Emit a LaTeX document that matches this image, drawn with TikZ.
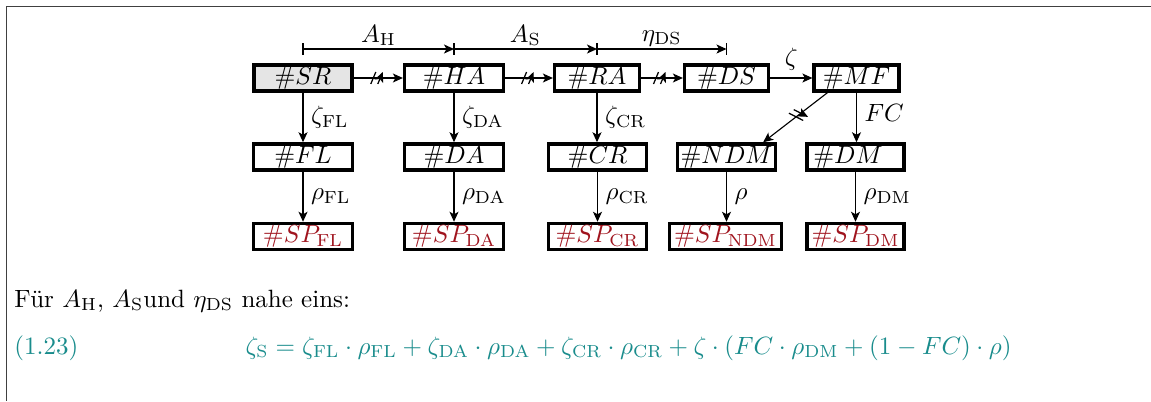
\documentclass[tikz,border=0pt]{standalone}
\usetikzlibrary{arrows.meta,calc}
\definecolor{spred}{RGB}{160,20,30}
\definecolor{eqteal}{RGB}{25,140,140}
\definecolor{srfill}{RGB}{229,229,229}
\begin{document}
\begin{tikzpicture}[x=0.4pt,y=-0.4pt,
  box/.style={draw, line width=1.3pt, inner sep=0.8pt, minimum height=10.3pt, minimum width=#1},
  box/.default=39.2pt,
  arr/.style={-{Stealth[length=4pt,width=3.6pt,inset=1pt]}, line width=0.45pt},
  dimline/.style={-{Stealth[length=4pt,width=3.6pt,inset=1pt]}, line width=0.45pt},
  tick/.style={line width=0.45pt},
  lbl/.style={inner sep=3pt},
  frame/.style={line width=0.6pt, black!75},
  slashes/.pic={\draw[line width=0.5pt] (-6,6) -- (-1,-6) (1,6) -- (6,-6);},
  crossmarks/.pic={\draw[line width=0.5pt] (-9.5,-1.8) -- (4.7,5.4) (-4.7,-5.4) -- (9.5,1.8);}
]
\useasboundingbox (0,0) rectangle (1151,401);

% outer frame (top and left edges only)
\draw[frame] (1151,6.5) -- (6.5,6.5) -- (6.5,401);

% first row
\node[box=39.2pt, fill=srfill] (SR) at (303,78) {$\#SR$};
\node[box=39.6pt] (HA) at (454,78) {$\#HA$};
\node[box=34pt]   (RA) at (597,78) {$\#RA$};
\node[box=33.6pt] (DS) at (726.5,78) {$\#DS$};
\node[box=34pt]   (MF) at (856.5,78) {$\#MF$};

% second row
\node[box=39.6pt] (FL)  at (303,157) {$\#FL$};
\node[box=39.6pt] (DA)  at (454,157) {$\#DA$};
\node[box=39.2pt] (CR)  at (597.5,157) {$\#CR$};
\node[box=39.2pt] (NDM) at (726.5,157) {$\#NDM$};
\node[box=38.8pt] (DM)  at (855.5,157) {$\#DM$\kern6pt};

% third row
\node[box=39.6pt, text=spred] (SPFL)  at (303,236.5) {$\#SP_{\mathrm{FL}}$};
\node[box=39.6pt, text=spred] (SPDA)  at (454,236.5) {$\#SP_{\mathrm{DA}}$};
\node[box=39.2pt, text=spred] (SPCR)  at (597.5,236.5) {$\#SP_{\mathrm{CR}}$};
\node[box=44.8pt, text=spred] (SPNDM) at (725.5,236.5) {$\#SP_{\mathrm{NDM}}$};
\node[box=38.8pt, text=spred] (SPDM)  at (855.5,236.5) {$\#SP_{\mathrm{DM}}$};

% horizontal chain
\draw[arr] (SR.east) -- pic[pos=0.47]{slashes} (HA.west);
\draw[arr] (HA.east) -- pic[pos=0.47]{slashes} (RA.west);
\draw[arr] (RA.east) -- pic[pos=0.44]{slashes} (DS.west);
\draw[arr] (DS.east) -- node[above, lbl]{$\zeta$} (MF.west);

% vertical branches
\draw[arr] (SR.south) -- node[right, lbl]{$\zeta_{\mathrm{FL}}$} (FL.north);
\draw[arr] (HA.south) -- node[right, lbl]{$\zeta_{\mathrm{DA}}$} (DA.north);
\draw[arr] (RA.south) -- node[right, lbl]{$\zeta_{\mathrm{CR}}$} (RA.south |- CR.north);
\draw[arr] (MF.south) -- node[right, lbl, yshift=2pt]{$FC$} (MF.south |- DM.north);
\coordinate (mfout) at ($(MF.south west)!0.17!(MF.south east)$);
\coordinate (ndmin) at ($(NDM.north east)+(-14,0)$);
\draw[arr] (mfout) -- pic[pos=0.45]{crossmarks} (ndmin);

\draw[arr] (FL.south) -- node[right, lbl]{$\rho_{\mathrm{FL}}$} (SPFL.north);
\draw[arr] (DA.south) -- node[right, lbl]{$\rho_{\mathrm{DA}}$} (SPDA.north);
\draw[arr] (CR.south) -- node[right, lbl]{$\rho_{\mathrm{CR}}$} (SPCR.north);
\draw[arr] (NDM.south) -- node[right, lbl]{$\rho$} (NDM.south |- SPNDM.north);
\draw[arr] (DM.south) -- node[right, lbl]{$\rho_{\mathrm{DM}}$} (SPDM.north);

% dimension line above the chain
\coordinate (d1) at ($(SR.center)+(0,-29)$);
\coordinate (d2) at ($(HA.center)+(0,-29)$);
\coordinate (d3) at ($(RA.center)+(0,-29)$);
\coordinate (d4) at ($(DS.center)+(0,-29)$);
\draw[dimline] (d1) -- node[above, inner sep=1pt]{$A_{\mathrm{H}}$} (d2);
\draw[dimline] (d2) -- node[above, inner sep=1pt]{$A_{\mathrm{S}}$} (d3);
\draw[dimline] (d3) -- node[above, inner sep=1pt]{$\eta_{\mathrm{DS}}$} (d4);
\foreach \d in {d1,d2,d3,d4}
  \draw[tick] ($(\d)+(0,-6)$) -- ($(\d)+(0,6)$);

% text below
\node[anchor=base west, inner sep=0] (note) at (14,307)
  {Für $A_{\mathrm{H}}$, $A_{\mathrm{S}}$und $\eta_{\mathrm{DS}}$ nahe eins:};
\node[anchor=base west, inner sep=0, text=eqteal] (eqno) at (14,354) {(1.23)};
\node[anchor=base west, inner sep=0, text=eqteal] (eq) at (245,354)
  {$\zeta_{\mathrm{S}} = \zeta_{\mathrm{FL}}\cdot\rho_{\mathrm{FL}} + \zeta_{\mathrm{DA}}\cdot\rho_{\mathrm{DA}} + \zeta_{\mathrm{CR}}\cdot\rho_{\mathrm{CR}} + \zeta\cdot(FC\cdot\rho_{\mathrm{DM}} + (1-FC)\cdot\rho)$};
\end{tikzpicture}
\end{document}
